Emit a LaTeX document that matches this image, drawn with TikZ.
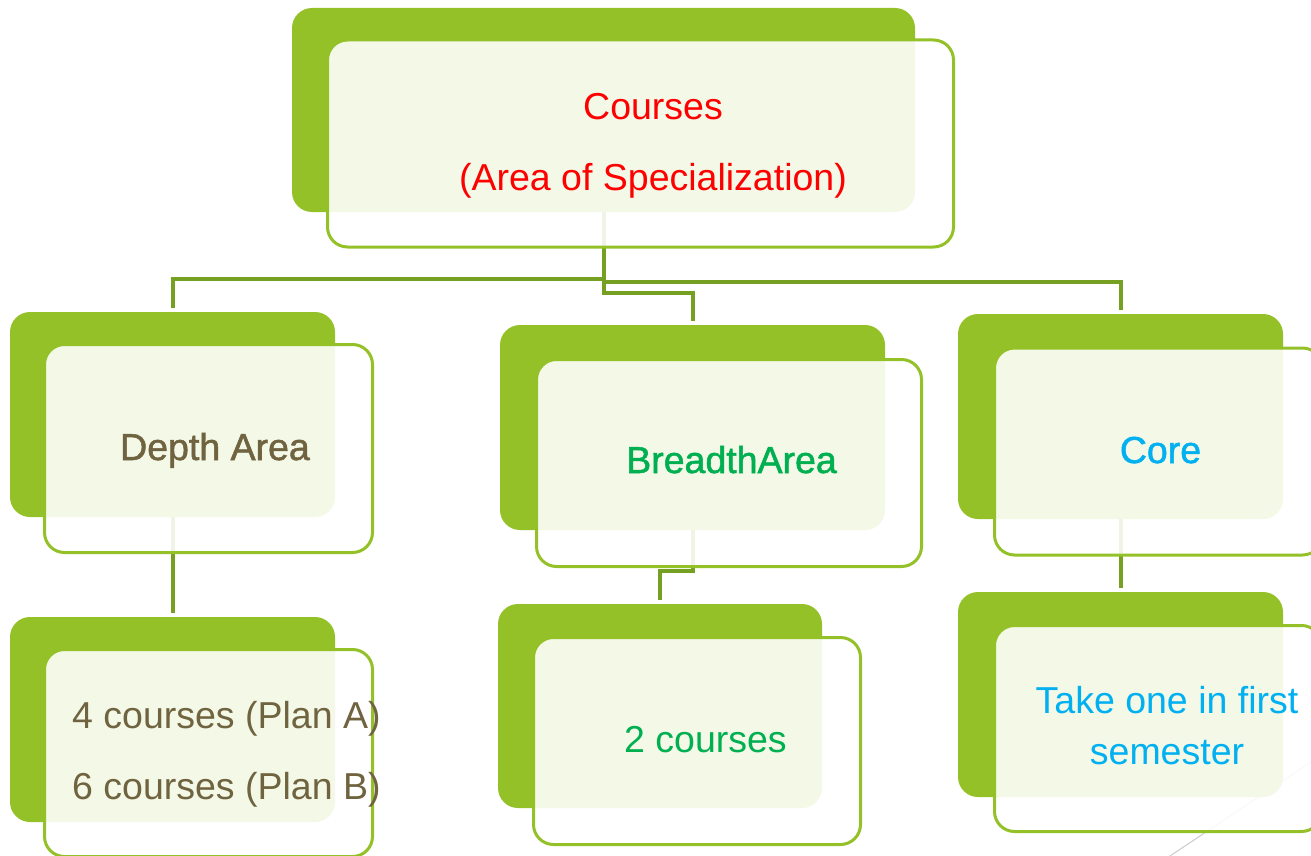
\documentclass[tikz,border=0pt]{standalone}
\usepackage{fontspec}
\setmainfont{Liberation Sans}
\newfontfamily\heavyfont[FakeBold=1.4]{Liberation Sans}
\definecolor{leaf}{RGB}{147,193,39}
\definecolor{stem}{RGB}{118,160,34}
\definecolor{olivetext}{RGB}{112,100,64}
\definecolor{tgreen}{RGB}{0,176,80}
\definecolor{tblue}{RGB}{0,176,240}
\definecolor{tred}{RGB}{255,0,0}
\begin{document}
\begin{tikzpicture}[x=1pt,y=-1pt,
  backbox/.style={rectangle, rounded corners=20pt, fill=leaf, draw=none, inner sep=0pt, outer sep=0pt},
  frontbox/.style={rectangle, rounded corners=20pt, draw=leaf, line width=3pt, fill=white, fill opacity=0.89, draw opacity=1, inner sep=0pt, outer sep=0pt},
  conn/.style={draw=stem, line width=4pt},
  lbl/.style={font=\fontsize{37.5}{45}\selectfont, inner sep=0pt, anchor=base},
  hlbl/.style={font=\heavyfont\fontsize{37.5}{45}\selectfont, inner sep=0pt, anchor=base}]
\useasboundingbox (0,0) rectangle (1311,856);
\clip (0,0) rectangle (1311,856);

% decorative slide line
\draw[black!18, line width=1.2pt] (1311,762) -- (1170,856);

% back (solid green) boxes
\node[backbox, minimum width=623pt, minimum height=204pt] (g0) at (603.5,110) {};
\node[backbox, minimum width=325pt, minimum height=205pt] (g1) at (172.5,414.5) {};
\node[backbox, minimum width=385pt, minimum height=205pt] (g2) at (692.5,427.5) {};
\node[backbox, minimum width=325pt, minimum height=205pt] (g3) at (1120.5,416.5) {};
\node[backbox, minimum width=325pt, minimum height=205pt] (g4) at (172.5,719.5) {};
\node[backbox, minimum width=324pt, minimum height=204pt] (g5) at (660,706) {};
\node[backbox, minimum width=325pt, minimum height=205pt] (g6) at (1120.5,694.5) {};

% connectors
\draw[conn] (g0.south) -- (g0.south |- 0,293) -| ([yshift=4pt]g2.north);
\draw[conn] (g0.south |- 0,279) -| ([yshift=4pt]g1.north);
\draw[conn] (g0.south |- 0,282) -| ([yshift=4pt]g3.north);
\draw[conn] (g1.south) -- ([yshift=4pt]g4.north);
\draw[conn] (g2.south) -- (g2.south |- 0,571) -| ([yshift=4pt]g5.north);
\draw[conn] (g3.south) -- ([yshift=4pt]g6.north);

% front (outlined, translucent) boxes
\node[frontbox, minimum width=626pt, minimum height=207pt] (o0) at (640.5,143.5) {};
\node[frontbox, minimum width=328pt, minimum height=208pt] (o1) at (208.5,448.5) {};
\node[frontbox, minimum width=385pt, minimum height=207pt] (o2) at (729,463) {};
\node[frontbox, minimum width=328pt, minimum height=207pt] (o3) at (1158.5,451.5) {};
\node[frontbox, minimum width=328pt, minimum height=207pt] (o4) at (208.5,753) {};
\node[frontbox, minimum width=327pt, minimum height=207pt] (o5) at (697,741) {};
\node[frontbox, minimum width=327pt, minimum height=206pt] (o6) at (1158,728.5) {};

% texts (multi-line nodes: base anchor = last line's baseline)
\node[lbl, text=tred, align=center, font=\fontsize{37.5}{71}\selectfont] (t0) at (653,190) {Courses\\(Area of Specialization)};
\node[hlbl, text=olivetext] (t1) at (215,460) {Depth Area};
\node[hlbl, text=tgreen] (t2) at (731.5,473) {BreadthArea};
\node[hlbl, text=tblue] (t3) at (1160.5,463) {Core};
\node[lbl, text=olivetext, align=left, anchor=base west, font=\fontsize{37.5}{71}\selectfont] (t4) at (72,799) {4 courses (Plan A)\\6 courses (Plan B)};
\node[lbl, text=tgreen] (t5) at (705.5,752) {2 courses};
\node[lbl, text=tblue, align=center, font=\fontsize{37.5}{51}\selectfont] (t6) at (1167,764) {Take one in first\\semester};
\end{tikzpicture}
\end{document}
